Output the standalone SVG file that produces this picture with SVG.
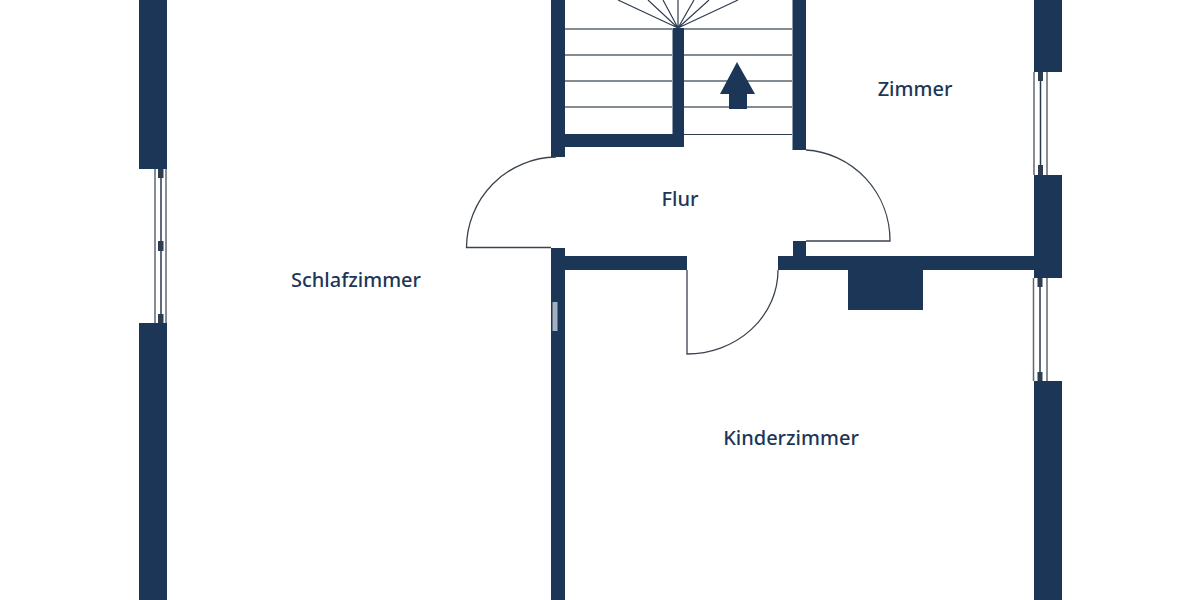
<svg xmlns="http://www.w3.org/2000/svg" width="1200" height="600" viewBox="0 0 1200 600">
<style>
.wall{fill:#1c3657}
.tread{stroke:#5b6570;stroke-width:1.6;fill:none}
.fan{stroke:#2f3f52;stroke-width:1.2;fill:none}
.door{stroke:#3a4350;stroke-width:1.3;fill:none}
.glass{stroke:#5f6872;stroke-width:1.5;fill:none}
.mullion{stroke:#2a3a4e;stroke-width:1.5;fill:none}
.block{fill:#2c3d50}
.label{font-family:"Noto Sans","Open Sans",sans-serif;font-size:20px;font-weight:500;fill:#1c3657;text-anchor:middle}
</style>
<rect width="1200" height="600" fill="#fff"/>
<g id="walls">
<rect class="wall" x="139" y="0" width="28" height="169"/>
<rect class="wall" x="139" y="323" width="28" height="277"/>
<rect class="wall" x="1034" y="0" width="28" height="72"/>
<rect class="wall" x="1034" y="175" width="28" height="103"/>
<rect class="wall" x="1034" y="381" width="28" height="219"/>
<rect class="wall" x="551" y="0" width="14" height="157"/>
<rect class="wall" x="565" y="134" width="119" height="13"/>
<rect class="wall" x="672.500" y="28" width="11.500" height="119"/>
<rect class="wall" x="792.500" y="0" width="13.500" height="150"/>
<rect class="wall" x="551" y="248" width="14" height="352"/>
<rect class="wall" x="565" y="256" width="122" height="14"/>
<rect class="wall" x="778" y="256" width="256" height="14"/>
<rect class="wall" x="793" y="241" width="13" height="15"/>
<rect class="wall" x="848" y="270" width="75" height="40"/>
<rect x="552.500" y="302" width="5" height="29" fill="#a3b0bf"/>
</g>
<g id="stairs">
<path class="tread" d="M565 29H672M684 29H792M565 55H672M684 55H792M565 81H672M684 81H792M565 107H672M684 107H792"/>
<path class="fan" d="M678 28L618 0M678 28L648 0M678 28L663 0M678 28V0M678 28L694 0M678 28L709 0M678 28L738 0M684 134.500H792"/>
<path class="wall" d="M737 62L755 94H747V109H729V94H720Z"/>
</g>
<g id="doors">
<path class="door" d="M551 247.500H466.500A91 91 0 0 1 556 157"/>
<path class="door" d="M806 150A89 91 0 0 1 890 241H806"/>
<path class="door" d="M687 270V354A91 84 0 0 0 778 270"/>
</g>
<g id="windows">
<path class="glass" d="M155 169V323M166 169V323"/>
<path class="mullion" d="M161 169V323"/>
<rect class="block" x="158" y="169" width="5.500" height="9"/>
<rect class="block" x="158" y="241" width="5.500" height="10"/>
<rect class="block" x="158" y="314" width="5.500" height="9"/>
<path class="glass" d="M1034 72V175M1047 72V175M1033.500 278V381M1047 278V381"/>
<path class="mullion" d="M1040.500 72V175M1040 278V381"/>
<rect class="block" x="1038" y="72" width="5" height="9"/>
<rect class="block" x="1038" y="165" width="5" height="10"/>
<rect class="block" x="1037.500" y="278" width="5" height="9"/>
<rect class="block" x="1037.500" y="372" width="5" height="9"/>
</g>
<g id="schlafzimmer"><text class="label" x="356" y="286.500">Schlafzimmer</text></g>
<g id="flur"><text class="label" x="680" y="205.500">Flur</text></g>
<g id="zimmer"><text class="label" x="915" y="95.500">Zimmer</text></g>
<g id="kinderzimmer"><text class="label" x="791" y="444.500">Kinderzimmer</text></g>
</svg>
